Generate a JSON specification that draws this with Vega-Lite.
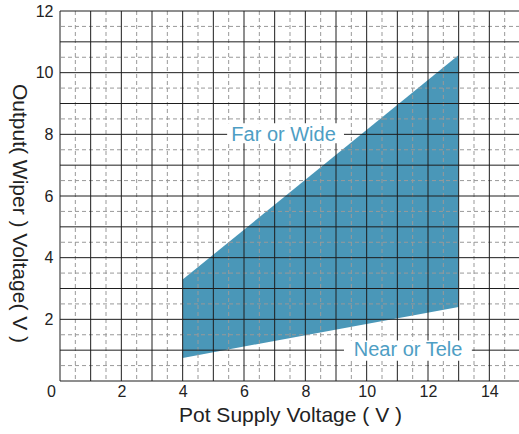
{
  "$schema": "https://vega.github.io/schema/vega-lite/v6.json",
  "width": 460,
  "height": 370,
  "autosize": "none",
  "padding": {"left": 60, "top": 11, "right": 0, "bottom": 53},
  "background": "white",
  "config": {"view": {"stroke": null}},
  "datasets": {
    "band": [
      {"supply": 4, "low": 0.75, "high": 3.29},
      {"supply": 13, "low": 2.4, "high": 10.57}
    ],
    "vmajor": [{"v":0},{"v":1},{"v":2},{"v":3},{"v":4},{"v":5},{"v":6},{"v":7},{"v":8},{"v":9},{"v":10},{"v":11},{"v":12},{"v":13},{"v":14},{"v":15}],
    "hmajor": [{"v":0},{"v":1},{"v":2},{"v":3},{"v":4},{"v":5},{"v":6},{"v":7},{"v":8},{"v":9},{"v":10},{"v":11},{"v":12}],
    "vminor": [{"v":0.5},{"v":1.5},{"v":2.5},{"v":3.5},{"v":4.5},{"v":5.5},{"v":6.5},{"v":7.5},{"v":8.5},{"v":9.5},{"v":10.5},{"v":11.5},{"v":12.5},{"v":13.5},{"v":14.5}],
    "hminor": [{"v":0.5},{"v":1.5},{"v":2.5},{"v":3.5},{"v":4.5},{"v":5.5},{"v":6.5},{"v":7.5},{"v":8.5},{"v":9.5},{"v":10.5},{"v":11.5}],
    "boxes": [
      {"x1": 5.45, "x2": 9.26, "y1": 7.71, "y2": 8.36},
      {"x1": 9.26, "x2": 13.43, "y1": 0.66, "y2": 1.31}
    ],
    "labels": [
      {"label": "Far or Wide", "x": 7.29, "y": 7.98},
      {"label": "Near or Tele", "x": 11.35, "y": 0.99}
    ]
  },
  "layer": [
    {
      "data": {"name": "band"},
      "mark": {"type": "area", "color": "#4a97b8", "opacity": 1},
      "encoding": {
        "x": {
          "field": "supply", "type": "quantitative",
          "scale": {"domain": [0, 15], "nice": false},
          "axis": {
            "title": "Pot Supply Voltage ( V )",
            "values": [0, 2, 4, 6, 8, 10, 12, 14],
            "grid": false, "ticks": false, "domain": false,
            "labelFlush": false,
            "labelFont": "Liberation Sans", "labelFontSize": 16, "labelColor": "#222222",
            "labelPadding": 2,
            "labelOffset": {"condition": {"test": "datum.value == 0", "value": -9}, "value": 0},
            "titleFont": "Liberation Sans", "titleFontSize": 21, "titleFontWeight": "normal",
            "titleColor": "#222222", "titleY": 34, "titleBaseline": "middle"
          }
        },
        "y": {
          "field": "low", "type": "quantitative",
          "scale": {"domain": [0, 12], "nice": false},
          "axis": {
            "title": "Output( Wiper ) Voltage( V )",
            "values": [2, 4, 6, 8, 10, 12],
            "grid": false, "ticks": false, "domain": false,
            "labelFlush": false,
            "labelFont": "Liberation Sans", "labelFontSize": 16, "labelColor": "#222222",
            "labelPadding": 7,
            "titleFont": "Liberation Sans", "titleFontSize": 21, "titleFontWeight": "normal",
            "titleColor": "#222222", "titleAngle": 90, "titleX": -42, "titleY": 202,
            "titleBaseline": "middle", "titleAlign": "center"
          }
        },
        "y2": {"field": "high"}
      }
    },
    {
      "data": {"name": "vminor"},
      "mark": {"type": "rule", "color": "#999999", "strokeWidth": 1, "strokeDash": [4, 3]},
      "encoding": {"x": {"field": "v", "type": "quantitative"}}
    },
    {
      "data": {"name": "hminor"},
      "mark": {"type": "rule", "color": "#999999", "strokeWidth": 1, "strokeDash": [4, 3]},
      "encoding": {"y": {"field": "v", "type": "quantitative"}}
    },
    {
      "data": {"name": "vmajor"},
      "mark": {"type": "rule", "color": "#1e1e1e", "strokeWidth": 1},
      "encoding": {"x": {"field": "v", "type": "quantitative"}}
    },
    {
      "data": {"name": "hmajor"},
      "mark": {"type": "rule", "color": "#1e1e1e", "strokeWidth": 1},
      "encoding": {"y": {"field": "v", "type": "quantitative"}}
    },
    {
      "data": {"name": "boxes"},
      "mark": {"type": "rect", "color": "white"},
      "encoding": {
        "x": {"field": "x1", "type": "quantitative"},
        "x2": {"field": "x2"},
        "y": {"field": "y1", "type": "quantitative"},
        "y2": {"field": "y2"}
      }
    },
    {
      "data": {"name": "labels"},
      "mark": {"type": "text", "font": "Liberation Sans", "fontSize": 20, "color": "#4e9ec4", "align": "center", "baseline": "middle"},
      "encoding": {
        "x": {"field": "x", "type": "quantitative"},
        "y": {"field": "y", "type": "quantitative"},
        "text": {"field": "label"}
      }
    }
  ]
}
